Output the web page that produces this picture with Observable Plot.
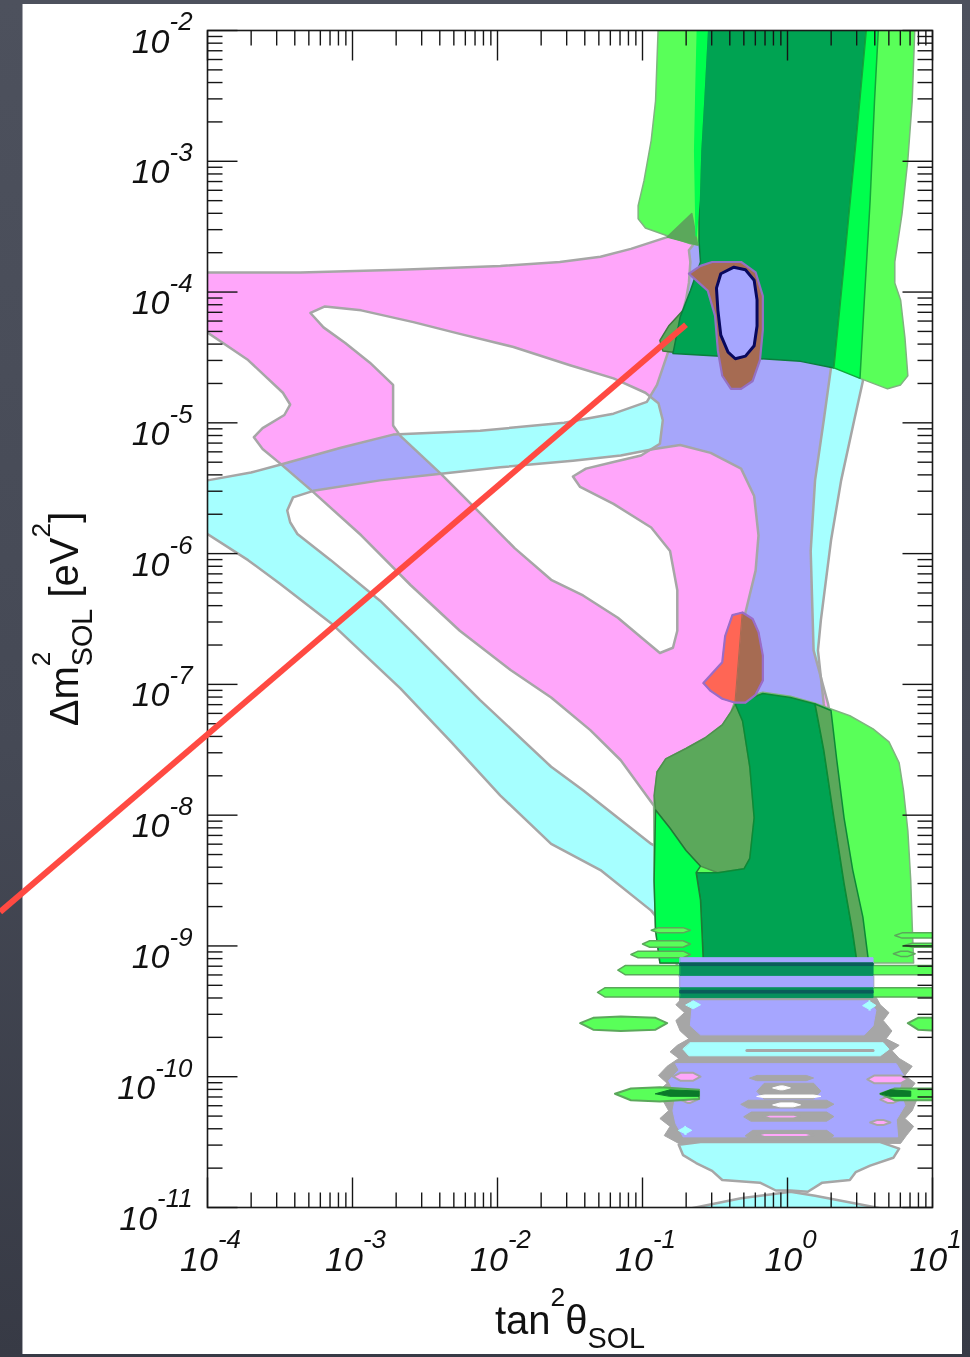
<!DOCTYPE html>
<html>
<head>
<meta charset="utf-8">
<script src="https://cdn.jsdelivr.net/npm/d3@7"></script>
<script src="https://cdn.jsdelivr.net/npm/@observablehq/plot@0.6"></script>
<style>
  html, body { margin: 0; padding: 0; }
  body { width: 970px; height: 1357px; position: relative; overflow: hidden;
         background: linear-gradient(180deg, #4d515d 0%, #454955 55%, #373a45 100%); }
  #panel { position: absolute; left: 23px; top: 4px; width: 939px; height: 1350px;
           background: #fff; box-shadow: -1px 0 0 #a4a6ad; }
  #chart { position: absolute; left: 0; top: 0; }
</style>
</head>
<body>
<div id="panel"></div>
<div id="chart"></div>
<script>
// All contour vertices are [log10 tan²θ, log10 Δm² (eV²)].

// Solar-only allowed region (magenta) and its inner excluded pocket
const pinkOuter = [[-4.08,-3.85],[-3.36,-3.85],[-2.67,-3.83],[-1.98,-3.80],[-1.57,-3.77],[-1.29,-3.73],[-1.08,-3.67],[-0.83,-3.58],[-0.62,-3.24],[-0.19,-3.26],[0.12,-3.99],[0.30,-4.58],[0.25,-4.98],[0.19,-5.44],[0.16,-5.98],[0.18,-6.74],[0.28,-7.15],[0.40,-7.89],[0.47,-8.65],[0.43,-9.03],[-0.60,-9.03],[-0.91,-8.65],[-0.92,-7.93],[-1.15,-7.58],[-1.36,-7.35],[-1.63,-7.10],[-1.91,-6.89],[-2.26,-6.59],[-2.60,-6.24],[-2.94,-5.86],[-3.27,-5.53],[-3.50,-5.31],[-3.62,-5.20],[-3.68,-5.11],[-3.62,-5.04],[-3.47,-4.94],[-3.43,-4.86],[-3.48,-4.77],[-3.72,-4.52],[-4.00,-4.31],[-4.08,-4.25]];
const pinkHole = [[-3.29,-4.16],[-3.19,-4.11],[-2.94,-4.14],[-2.58,-4.23],[-2.26,-4.32],[-1.89,-4.42],[-1.50,-4.56],[-1.20,-4.66],[-0.98,-4.77],[-0.89,-4.85],[-0.86,-4.98],[-0.88,-5.16],[-1.01,-5.25],[-1.20,-5.30],[-1.39,-5.35],[-1.48,-5.41],[-1.43,-5.49],[-1.20,-5.62],[-0.94,-5.80],[-0.81,-5.98],[-0.76,-6.28],[-0.76,-6.59],[-0.79,-6.72],[-0.88,-6.76],[-1.01,-6.64],[-1.17,-6.49],[-1.41,-6.32],[-1.63,-6.20],[-1.88,-5.96],[-2.12,-5.69],[-2.39,-5.39],[-2.67,-5.10],[-2.72,-5.02],[-2.72,-4.71],[-2.88,-4.54],[-3.05,-4.39],[-3.20,-4.27]];

// Second allowed region (cyan) and its pocket
const cyanOuter = [[-4.08,-5.46],[-4.00,-5.44],[-3.70,-5.38],[-3.50,-5.32],[-3.08,-5.19],[-2.72,-5.09],[-2.12,-5.06],[-1.54,-5.00],[-1.20,-4.93],[-0.97,-4.84],[-0.90,-4.71],[-0.83,-4.48],[-0.75,-4.26],[-0.70,-4.06],[-0.68,-3.93],[-0.67,-3.77],[-0.68,-3.68],[-0.60,-3.57],[0.09,-3.61],[0.47,-4.06],[0.52,-4.68],[0.46,-4.98],[0.37,-5.44],[0.30,-5.90],[0.23,-6.51],[0.21,-6.74],[0.25,-7.15],[0.37,-7.89],[0.47,-8.65],[0.59,-9.11],[0.59,-9.42],[-0.74,-9.42],[-0.74,-9.24],[-0.79,-9.03],[-0.86,-8.84],[-0.94,-8.73],[-1.29,-8.42],[-1.63,-8.22],[-1.98,-7.85],[-2.32,-7.44],[-2.67,-7.03],[-3.15,-6.53],[-3.50,-6.23],[-3.72,-6.05],[-4.00,-5.85],[-4.08,-5.78]];
const cyanHole = [[-3.45,-5.67],[-3.41,-5.57],[-3.27,-5.52],[-2.81,-5.44],[-2.39,-5.39],[-1.98,-5.34],[-1.48,-5.29],[-1.15,-5.25],[-0.92,-5.20],[-0.74,-5.17],[-0.53,-5.23],[-0.32,-5.35],[-0.23,-5.56],[-0.20,-5.86],[-0.22,-6.13],[-0.29,-6.45],[-0.36,-7.14],[-0.32,-7.25],[-0.26,-7.63],[-0.23,-8.02],[-0.26,-8.35],[-0.48,-8.44],[-0.72,-8.35],[-0.94,-8.22],[-1.17,-8.02],[-1.41,-7.81],[-1.63,-7.63],[-2.12,-7.12],[-2.58,-6.61],[-2.81,-6.36],[-3.15,-6.05],[-3.38,-5.85],[-3.43,-5.76]];

// Upper (LMA) green contours
const greenTopOuter = [[-0.89,-1.92],[-0.91,-2.54],[-0.94,-2.84],[-0.99,-3.15],[-1.03,-3.34],[-1.03,-3.44],[-0.98,-3.51],[-0.83,-3.57],[-0.67,-3.63],[-0.61,-3.64],[-0.46,-4.06],[-0.26,-4.45],[0.26,-4.48],[0.50,-4.66],[0.69,-4.74],[0.78,-4.71],[0.83,-4.64],[0.81,-4.35],[0.78,-4.06],[0.74,-3.93],[0.74,-3.77],[0.79,-3.40],[0.83,-2.99],[0.86,-2.54],[0.88,-1.92]];
const greenTopOlive = [[-0.83,-3.58],[-0.66,-3.40],[-0.62,-3.64]];
const greenTopSliver = [[-0.88,-4.37],[-0.82,-4.26],[-0.72,-4.14],[-0.67,-4.19],[-0.74,-4.34],[-0.79,-4.46],[-0.86,-4.45]];
const greenTopCore = [[-0.55,-1.92],[-0.58,-2.54],[-0.60,-2.92],[-0.61,-3.30],[-0.61,-3.61],[-0.60,-3.77],[-0.67,-3.99],[-0.74,-4.19],[-0.79,-4.47],[-0.46,-4.49],[0.09,-4.53],[0.32,-4.58],[0.40,-3.68],[0.48,-2.76],[0.55,-1.92]];
const greenTopEdgeLeft = [[-0.62,-1.92],[-0.55,-1.92],[-0.58,-2.54],[-0.60,-2.92],[-0.61,-3.30],[-0.63,-3.57],[-0.64,-2.92],[-0.63,-2.38]];
const greenTopEdgeRight = [[0.55,-1.92],[0.63,-1.92],[0.60,-2.54],[0.57,-3.30],[0.53,-4.06],[0.50,-4.66],[0.32,-4.58],[0.40,-3.68],[0.48,-2.76]];
const bestFitUpper = [[-0.68,-3.86],[-0.60,-3.80],[-0.52,-3.77],[-0.32,-3.77],[-0.22,-3.85],[-0.17,-4.03],[-0.17,-4.29],[-0.19,-4.52],[-0.24,-4.68],[-0.32,-4.74],[-0.39,-4.74],[-0.45,-4.64],[-0.48,-4.45],[-0.50,-4.18],[-0.55,-3.99],[-0.61,-3.93]];
const bestFitUpperCore = [[-0.37,-3.81],[-0.29,-3.83],[-0.23,-3.91],[-0.21,-4.06],[-0.21,-4.26],[-0.23,-4.41],[-0.29,-4.49],[-0.36,-4.51],[-0.41,-4.46],[-0.46,-4.33],[-0.48,-4.14],[-0.49,-3.97],[-0.46,-3.86]];

// Lower (LOW) green contours
const greenLowOuter = [[-0.36,-7.12],[-0.17,-7.06],[0.02,-7.09],[0.18,-7.14],[0.43,-7.24],[0.59,-7.34],[0.70,-7.44],[0.77,-7.60],[0.80,-7.81],[0.83,-8.12],[0.85,-8.50],[0.86,-8.84],[0.87,-9.13],[-0.88,-9.13],[-0.91,-8.88],[-0.92,-8.50],[-0.92,-7.89],[-0.90,-7.67],[-0.84,-7.57],[-0.70,-7.49],[-0.57,-7.41],[-0.45,-7.31],[-0.39,-7.21]];
const greenLowOlive = [[-0.36,-7.15],[-0.39,-7.21],[-0.45,-7.31],[-0.57,-7.41],[-0.70,-7.49],[-0.84,-7.57],[-0.90,-7.67],[-0.92,-7.85],[-0.91,-7.96],[-0.81,-8.10],[-0.70,-8.27],[-0.60,-8.39],[-0.48,-8.44],[-0.30,-8.41],[-0.26,-8.33],[-0.23,-8.02],[-0.26,-7.63],[-0.31,-7.28]];
const greenLowCore = [[-0.36,-7.15],[-0.17,-7.07],[0.02,-7.10],[0.19,-7.15],[0.25,-7.50],[0.32,-8.02],[0.39,-8.52],[0.45,-8.90],[0.48,-9.13],[-0.58,-9.13],[-0.60,-8.65],[-0.63,-8.44],[-0.48,-8.44],[-0.30,-8.41],[-0.26,-8.33],[-0.23,-8.02],[-0.26,-7.63],[-0.31,-7.28]];
const greenLowOliveRight = [[0.19,-7.15],[0.30,-7.20],[0.34,-7.58],[0.39,-8.02],[0.45,-8.42],[0.52,-8.78],[0.56,-9.13],[0.48,-9.13],[0.45,-8.90],[0.39,-8.52],[0.32,-8.02],[0.25,-7.50]];
const greenLowBright = [[-0.91,-7.96],[-0.81,-8.10],[-0.70,-8.27],[-0.60,-8.39],[-0.63,-8.44],[-0.60,-8.65],[-0.58,-9.13],[-0.88,-9.13],[-0.91,-8.88],[-0.92,-8.50]];
const blobLowRed = [[-0.58,-6.99],[-0.45,-6.83],[-0.43,-6.63],[-0.38,-6.47],[-0.31,-6.45],[-0.36,-7.14],[-0.45,-7.11],[-0.53,-7.05]];
const blobLowBrown = [[-0.31,-6.45],[-0.24,-6.50],[-0.20,-6.60],[-0.17,-6.78],[-0.17,-6.97],[-0.22,-7.08],[-0.29,-7.14],[-0.36,-7.14]];

// Oscillating structure below Δm² ~ 1e-9
const lowEnvelope = [[-0.72,-9.39],[-0.77,-9.45],[-0.71,-9.51],[-0.77,-9.57],[-0.74,-9.65],[-0.68,-9.71],[-0.76,-9.76],[-0.81,-9.81],[-0.75,-9.86],[-0.83,-9.92],[-0.89,-9.99],[-0.83,-10.05],[-0.90,-10.12],[-0.86,-10.18],[-0.82,-10.26],[-0.88,-10.32],[-0.81,-10.38],[-0.85,-10.45],[-0.75,-10.51],[0.78,-10.51],[0.82,-10.45],[0.87,-10.38],[0.81,-10.32],[0.86,-10.26],[0.89,-10.18],[0.83,-10.12],[0.88,-10.05],[0.81,-9.99],[0.86,-9.92],[0.77,-9.86],[0.72,-9.80],[0.77,-9.76],[0.68,-9.71],[0.72,-9.65],[0.66,-9.57],[0.70,-9.51],[0.64,-9.45],[0.61,-9.39]];
const lowLavUpper = [[-0.66,-9.42],[0.56,-9.42],[0.61,-9.49],[0.59,-9.61],[0.53,-9.68],[-0.60,-9.68],[-0.67,-9.61],[-0.66,-9.49]];
const lowCyanBand = [[-0.67,-9.74],[0.66,-9.74],[0.70,-9.79],[0.64,-9.84],[-0.68,-9.84],[-0.72,-9.79]];
const lowLavLower = [[-0.77,-9.90],[0.75,-9.90],[0.80,-9.99],[0.77,-10.10],[0.81,-10.22],[0.75,-10.33],[0.76,-10.46],[-0.72,-10.46],[-0.77,-10.36],[-0.79,-10.26],[-0.77,-10.14],[-0.82,-10.03],[-0.75,-9.95]];
const lowCyanBlob = [[-0.75,-10.52],[-0.60,-10.50],[0.64,-10.50],[0.77,-10.55],[0.73,-10.62],[0.57,-10.68],[0.47,-10.73],[0.43,-10.79],[0.24,-10.81],[0.14,-10.88],[0.02,-10.87],[-0.08,-10.87],[-0.19,-10.81],[-0.45,-10.79],[-0.52,-10.72],[-0.63,-10.66],[-0.72,-10.60]];
const lowCyanArch = [[-0.68,-11.01],[-0.32,-10.93],[-0.12,-10.90],[0.02,-10.88],[0.19,-10.91],[0.66,-11.01],[0.66,-11.10],[-0.68,-11.10]];
const lowGrayLine = [[-0.28,-9.80],[0.59,-9.80]];
// [log10 tan² from, to, log10 Δm² upper, lower]
const lowGrayBars = [[-0.26,0.18,-9.99,-10.03],[-0.21,0.23,-10.05,-10.17],[-0.32,0.32,-10.18,-10.24],[-0.30,0.32,-10.27,-10.34],[-0.29,0.32,-10.41,-10.49]];
const lowWhiteBars = [[-0.10,0.02,-10.07,-10.10],[-0.21,0.23,-10.14,-10.16],[-0.10,0.09,-10.20,-10.23]];
const lowPinkBars = [[-0.17,0.09,-10.29,-10.32],[-0.21,0.18,-10.43,-10.46],[-0.79,-0.60,-9.97,-10.03],[-0.74,-0.62,-10.15,-10.20],[0.55,0.83,-9.99,-10.05],[0.64,0.78,-10.15,-10.20],[0.57,0.71,-10.33,-10.37]];
const lowCyanBits = [[-0.70,-0.60,-9.42,-9.48],[0.52,0.61,-9.42,-9.49],[-0.75,-0.66,-10.38,-10.44]];

// Thin green islands of the lower contours
const islandsLight = [[-0.94,-0.67,-8.86,-8.90],[-1.00,-0.67,-8.96,-9.01],[-1.08,-0.67,-9.04,-9.09],[0.74,1.05,-8.90,-8.94],[0.81,1.05,-8.98,-9.01],[0.73,0.88,-9.04,-9.08],[-1.17,1.05,-9.15,-9.22],[-1.31,1.05,-9.32,-9.39]];
const stripeLav = [[-0.74,0.59,-9.09,-9.13],[-0.74,0.59,-9.225,-9.32]];
const stripeCore = [[-0.74,0.59,-9.13,-9.225],[-0.74,0.59,-9.32,-9.395]];
const stripeTeal = [[-0.74,0.59,-9.13,-9.15],[-0.74,0.59,-9.34,-9.36]];
const islandLeftA = [[-1.43,-9.59],[-1.34,-9.55],[-1.15,-9.54],[-0.91,-9.55],[-0.83,-9.59],[-0.91,-9.64],[-1.15,-9.65],[-1.34,-9.64]];
const islandRightA = [[0.83,-9.59],[0.90,-9.55],[1.06,-9.55],[1.06,-9.65],[0.90,-9.64]];
const islandLeftB = [[-1.19,-10.13],[-1.08,-10.09],[-0.88,-10.08],[-0.61,-10.10],[-0.61,-10.17],[-0.88,-10.19],[-1.08,-10.18]];
const islandLeftBCore = [[-0.91,-10.13],[-0.81,-10.10],[-0.61,-10.11],[-0.61,-10.15],[-0.81,-10.15]];
const islandRightB = [[0.64,-10.13],[0.74,-10.09],[1.06,-10.09],[1.06,-10.18],[0.74,-10.18]];
const islandRightBCore = [[0.64,-10.13],[0.71,-10.10],[0.85,-10.11],[0.85,-10.15],[0.71,-10.15]];

// Pointer drawn across the panel
const pointer = [[-5.43,-8.74],[-0.70,-4.25]];

// Axis decades
const xDecades = [-4, -3, -2, -1, 0, 1];
const yDecades = [-2, -3, -4, -5, -6, -7, -8, -9, -10, -11];

const PINK = "#ffa6fa", CYAN = "#a6ffff", LAV = "#a6a6ff", LIGHT = "#59ff59", BRIGHT = "#00ff4d",
      DARK = "#00a352", OLIVE = "#5ba85b", BROWN = "#a66b52", RED = "#ff6655", GRAY = "#a6a6a6",
      EDGE = "#7fb47f", CORE = "#07905c", TEAL = "#0b5d5a";
const FONT = "'Liberation Sans', Arial, Helvetica, sans-serif";

const rows = list => list.flatMap(([id, pts, fill, stroke]) =>
  pts.map(([a, b]) => ({id, x: 10 ** a, y: 10 ** b, fill, stroke: stroke ?? fill})));
const patches = (list, o = {}) => Plot.line(rows(list), {
  x: "x", y: "y", z: "id", fill: "fill", stroke: "stroke",
  strokeWidth: 1, curve: "linear-closed", clip: true, ...o
});
const lens = ([a0, a1, b0, b1], t = 0.05) => {
  const bm = (b0 + b1) / 2;
  return [[a0, bm], [a0 + t, b0], [a1 - t, b0], [a1, bm], [a1 - t, b1], [a0 + t, b1]];
};
const rect = ([a0, a1, b0, b1]) => [[a0, b0], [a1, b0], [a1, b1], [a0, b1]];
const many = (prefix, list, shape, fill, stroke) => list.map((e, i) => [`${prefix}${i}`, shape(e), fill, stroke]);

// Log-axis tick positions
const isDecade = v => Math.abs(Math.log10(v) - Math.round(Math.log10(v))) < 1e-6;
const xMinor = d3.scaleLog().domain([1e-4, 10]).ticks().filter(v => !isDecade(v));
const yMinor = d3.scaleLog().domain([1e-11, 1e-2]).ticks().filter(v => !isDecade(v));
const xMajor = xDecades.map(d => 10 ** d);
const yMajor = yDecades.map(d => 10 ** d);
const tickShape = {draw(ctx, l) { ctx.moveTo(0, 0); ctx.lineTo(0, -l); }};
const ticks = (values, ch, frameAnchor, rotate, length) => Plot.vector(values, {
  [ch]: d => d, frameAnchor, rotate, length, anchor: "start", shape: tickShape,
  stroke: "#151515", strokeWidth: 1.4, strokeLinecap: "butt"
});

const blobLowEdge = [...blobLowRed.slice(0, 5), ...blobLowBrown.slice(1), ...blobLowRed.slice(6)];

const svg = Plot.plot({
  width: 970, height: 1357,
  marginLeft: 207, marginRight: 38, marginTop: 30, marginBottom: 150,
  x: {type: "log", domain: [1e-4, 10], axis: null},
  y: {type: "log", domain: [1e-11, 1e-2], axis: null},
  color: {type: "identity"},
  style: {background: "transparent", overflow: "visible"},
  marks: [
    patches([["pO", pinkOuter, PINK], ["pH", pinkHole, "#ffffff"]], {stroke: "none"}),
    // the overlap of the two regions comes out lavender: this group is multiplied onto the magenta one
    patches([["cO", cyanOuter, CYAN], ["cH", cyanHole, "#ffffff"]], {stroke: "none", ariaDescription: "cyan region"}),
    patches([["pO", pinkOuter], ["pH", pinkHole], ["cO", cyanOuter], ["cH", cyanHole]],
            {fill: "none", stroke: GRAY, strokeWidth: 2.5}),

    // upper green complex
    patches([
      ["gto", greenTopOuter, LIGHT, EDGE],
      ["gtol", greenTopOlive, OLIVE, OLIVE],
      ["gts", greenTopSliver, OLIVE, "#3e7a3e"],
      ["gtc", greenTopCore, DARK, "#0a7e3e"],
      ["gtl", greenTopEdgeLeft, BRIGHT, BRIGHT],
      ["gtr", greenTopEdgeRight, BRIGHT, "#12a63a"]
    ], {strokeWidth: 1.5}),
    patches([["bf", bestFitUpper, BROWN, "#9470c4"]], {strokeWidth: 2.2}),
    patches([["bfc", bestFitUpperCore, LAV, "#08085e"]], {strokeWidth: 3}),

    // lower green complex
    patches([
      ["glo", greenLowOuter, LIGHT, EDGE],
      ["glol", greenLowOlive, OLIVE, "#4f8f4f"],
      ["glc", greenLowCore, DARK, "#0c8a36"],
      ["glor", greenLowOliveRight, OLIVE, "#0c8a36"],
      ["glb", greenLowBright, BRIGHT, "#1f7a36"]
    ], {strokeWidth: 1.5}),
    patches([["blr", blobLowRed, RED], ["blb", blobLowBrown, BROWN]]),
    patches([["ble", blobLowEdge]], {fill: "none", stroke: "#9a6cc8", strokeWidth: 2.2}),

    // oscillating region at small Δm²
    patches([
      ["env", lowEnvelope, GRAY],
      ["lu", lowLavUpper, LAV],
      ["cb", lowCyanBand, CYAN],
      ["ll", lowLavLower, LAV],
      ...many("gb", lowGrayBars, lens, GRAY),
      ...many("wb", lowWhiteBars, lens, "#ffffff"),
      ...many("cbit", lowCyanBits, lens, CYAN)
    ]),
    patches(many("pb", lowPinkBars, lens, PINK, GRAY), {strokeWidth: 2}),
    Plot.line(lowGrayLine.map(([a, b]) => ({x: 10 ** a, y: 10 ** b})), {x: "x", y: "y", stroke: GRAY, strokeWidth: 3, clip: true}),
    patches([["cbl", lowCyanBlob, CYAN, GRAY], ["car", lowCyanArch, CYAN, GRAY]], {strokeWidth: 2.5}),

    // horizontal green islands
    patches(many("isl", islandsLight, lens, LIGHT, OLIVE), {strokeWidth: 1.5}),
    patches([
      ...many("sl", stripeLav, rect, LAV),
      ...many("sc", stripeCore, rect, CORE),
      ...many("st", stripeTeal, rect, TEAL)
    ]),
    patches([
      ["ila", islandLeftA, LIGHT, OLIVE], ["ira", islandRightA, LIGHT, OLIVE],
      ["ilb", islandLeftB, LIGHT, OLIVE], ["irb", islandRightB, LIGHT, OLIVE]
    ], {strokeWidth: 2}),
    patches([["ilbc", islandLeftBCore, "#0b7a2a"], ["irbc", islandRightBCore, "#0b7a2a"]]),

    Plot.frame({stroke: "#1a1a1a", strokeWidth: 1.6}),
    ticks(yMajor, "y", "left", 90, 30), ticks(yMinor, "y", "left", 90, 15),
    ticks(yMajor, "y", "right", -90, 30), ticks(yMinor, "y", "right", -90, 15),
    ticks(xMajor, "x", "bottom", 0, 30), ticks(xMinor, "x", "bottom", 0, 15),
    ticks(xMajor, "x", "top", 180, 30), ticks(xMinor, "x", "top", 180, 15),

    Plot.text(yDecades, {y: d => 10 ** d, frameAnchor: "left", text: d => `10^{${d}}`,
      textAnchor: "end", lineAnchor: "bottom", dx: -15, dy: 22,
      fontSize: 34, fontStyle: "italic", fontFamily: FONT, fill: "#111"}),
    Plot.text(xDecades, {x: d => 10 ** d, frameAnchor: "bottom", text: d => `10^{${d}}`,
      textAnchor: "middle", lineAnchor: "bottom", dx: 3, dy: 63,
      fontSize: 34, fontStyle: "italic", fontFamily: FONT, fill: "#111"}),
    Plot.text(["tan^{2}θ_{SOL}"], {frameAnchor: "bottom", textAnchor: "middle", lineAnchor: "bottom", dy: 126,
      fontSize: 40, fontFamily: FONT, fill: "#111"}),
    Plot.text(["Δm^{2}_{SOL} [eV^{2}]"], {frameAnchor: "left", rotate: -90, textAnchor: "middle", lineAnchor: "bottom",
      dx: -130, fontSize: 40, fontFamily: FONT, fill: "#111"}),

    Plot.line(pointer.map(([a, b]) => ({x: 10 ** a, y: 10 ** b})),
      {x: "x", y: "y", stroke: "#ff4a42", strokeWidth: 6, strokeLinecap: "butt"})
  ]
});

document.getElementById("chart").append(svg);

// Blend the whole cyan group (fill with its pocket cut out) over the magenta region
svg.querySelectorAll('[aria-description="cyan region"]').forEach(g => {
  g.style.mixBlendMode = "multiply";
});

// Turn ^{…} and _{…} into raised / lowered tspans
function typeset(root) {
  const NS = "http://www.w3.org/2000/svg";
  root.querySelectorAll("text").forEach(node => {
    const src = node.textContent;
    if (!/[\^_]\{/.test(src)) return;
    const tick = src.startsWith("10^");
    const size = parseFloat(getComputedStyle(node).fontSize);
    const supScale = tick ? 0.76 : 0.66, supRise = tick ? 0.65 : 0.68;
    const subScale = 0.72, subDrop = 0.37;
    node.textContent = "";
    let level = 0, prevSup = null;
    for (const m of src.matchAll(/([\^_])\{([^}]*)\}|([^\^_]+)/g)) {
      const t = document.createElementNS(NS, "tspan");
      let target = 0, fs = null, dx = 0;
      if (m[3] !== undefined) {
        t.textContent = m[3];
      } else {
        t.textContent = m[2];
        const sup = m[1] === "^";
        target = sup ? -supRise * size : subDrop * size;
        fs = (sup ? supScale : subScale) * size;
        if (!sup && prevSup) dx = -prevSup.getComputedTextLength();
      }
      t.setAttribute("dy", target - level);
      level = target;
      if (fs) t.setAttribute("font-size", fs);
      if (dx) t.setAttribute("dx", dx);
      node.appendChild(t);
      prevSup = m[1] === "^" ? t : null;
    }
  });
}
typeset(svg);
</script>
</body>
</html>
